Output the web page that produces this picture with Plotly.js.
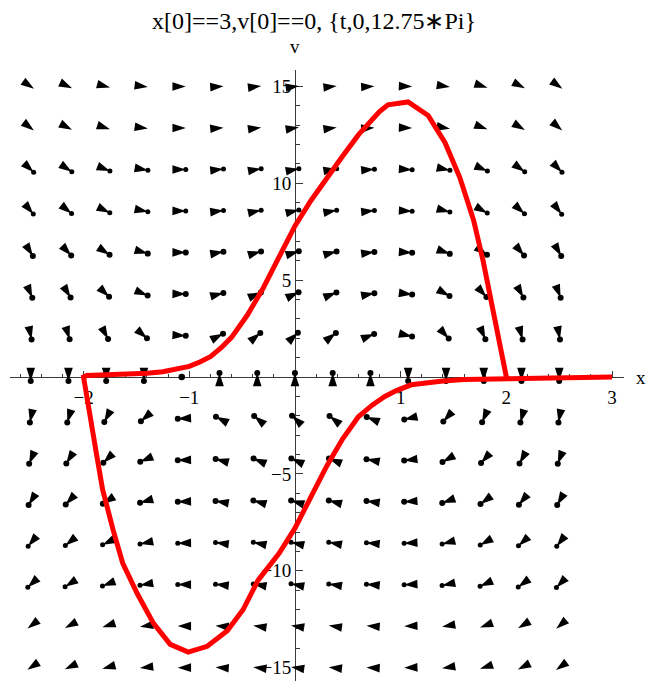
<!DOCTYPE html>
<html>
<head>
<meta charset="utf-8">
<script src="https://cdn.plot.ly/plotly-3.0.1.min.js"></script>
<style>
  html, body { margin: 0; padding: 0; background: #ffffff; }
  #plot { width: 646px; height: 681px; }
</style>
</head>
<body>
<div id="plot"></div>
<script>
// ---- chart text ----
const titleText = 'x[0]==3,v[0]==0, {t,0,12.75\u2217Pi}';
const xAxisLabel = 'x';
const vAxisLabel = 'v';

// ---- axis ticks ----
const xTickVals = [-2, -1, 1, 2, 3];
const xTickText = ['\u22122', '\u22121', '1', '2', '3'];
const vTickVals = [-15, -10, -5, 5, 10, 15];
const vTickText = ['\u221215', '\u221210', '\u22125', '5', '10', '15'];

// ---- direction field sample grid ----
const fieldX = [-2.5, -2.143, -1.786, -1.429, -1.071, -0.714, -0.357, 0, 0.357, 0.714, 1.071, 1.429, 1.786, 2.143, 2.5];
const fieldV = [15, 12.857, 10.714, 8.571, 6.429, 4.286, 2.143, 0, -2.143, -4.286, -6.429, -8.571, -10.714, -12.857, -15];
// heading of each arrow on screen, degrees counter-clockwise from +x (one row per fieldV value);
// null marks a vanishing arrow drawn as a bare dot
const fieldAngle = [
  [-34, -25, -15, -7, 0, 4, 7, 8, 6, 3, -2, -9, -18, -27, -36],
  [-38, -28, -18, -8, 0, 5, 8, 9, 8, 4, -2, -10, -20, -31, -41],
  [-43, -33, -21, -10, 0, 6, 10, 11, 9, 5, -3, -12, -24, -36, -46],
  [-50, -39, -26, -12, -1, 7, 12, 13, 11, 6, -3, -15, -29, -42, -52],
  [-58, -47, -33, -16, -1, 10, 16, 17, 15, 8, -4, -20, -36, -50, -60],
  [-67, -58, -44, -23, -1, 15, 23, 25, 22, 11, -7, -29, -48, -61, -69],
  [-78, -73, -62, -41, -3, 28, 40, 43, 38, 22, -13, -48, -66, -74, -79],
  [-90, -90, -90, -90, null, 90, 90, 90, 90, 90, -90, -90, -90, -90, -90],
  [-102, -107, -118, -139, -177, 152, 140, 137, 142, 158, -167, -132, -114, -106, -101],
  [-113, -122, -136, -157, -179, 165, 157, 155, 158, 169, -173, -151, -132, -119, -111],
  [-122, -133, -147, -164, -179, 170, 164, 163, 165, 172, -176, -160, -144, -130, -120],
  [-130, -141, -154, -168, -179, 173, 168, 167, 169, 174, -177, -165, -151, -138, -128],
  [-137, -147, -159, -170, 180, 174, 170, 169, 171, 175, -177, -168, -156, -144, -134],
  [-142, -152, -162, -172, 180, 175, 172, 171, 172, 176, -178, -170, -160, -149, -139],
  [-146, -155, -165, -173, 180, 176, 173, 172, 174, 177, -178, -171, -162, -153, -144]
];

// ---- solution curve (x, v), followed in time order ----
const trajX = [3.0, 2.6, 2.2, 1.9, 1.6, 1.4, 1.25, 1.1, 0.96, 0.85, 0.73, 0.6, 0.45, 0.3, 0.15, 0.0,
  -0.15, -0.35, -0.49, -0.64, -0.83, -1.01, -1.18, -1.34, -1.49, -1.63, -1.72, -1.82, -1.88, -1.94, -1.99, -2.0,
  -1.97, -1.8, -1.6, -1.4, -1.25, -1.1, -1.0, -0.9, -0.8, -0.7, -0.6, -0.45, -0.3, -0.15, 0.0,
  0.15, 0.3, 0.45, 0.6, 0.8, 0.88, 1.07, 1.26, 1.42, 1.56, 1.69, 1.78, 1.87, 1.94, 1.99, 2.0];
const trajV = [0.0, -0.03, -0.05, -0.08, -0.13, -0.2, -0.27, -0.4, -0.7, -1.0, -1.45, -2.05, -3.2, -4.6, -6.2, -7.8,
  -9.1, -10.5, -12.0, -13.1, -13.9, -14.2, -13.8, -12.7, -11.2, -9.6, -7.9, -5.8, -3.9, -1.9, -0.5, 0.0,
  0.08, 0.1, 0.13, 0.2, 0.27, 0.4, 0.55, 0.78, 1.05, 1.5, 2.05, 3.2, 4.6, 6.2, 7.8,
  9.1, 10.3, 11.4, 12.5, 13.7, 14.05, 14.2, 13.5, 12.1, 10.3, 8.1, 6.0, 3.6, 1.8, 0.5, 0.0];

// ---- layout geometry ----
const W = 646, H = 681;
const M = { l: 10, r: 22, t: 70, b: 0 };
const xRange = [-2.696, 3.113];
const vRange = [-15.69, 15.85];
const plotW = W - M.l - M.r, plotH = H - M.t - M.b;
const pxPerX = plotW / (xRange[1] - xRange[0]);
const pxPerV = plotH / (vRange[1] - vRange[0]);

// arrow glyphs: a narrow head whose tip sits a few pixels ahead of the sample point,
// with a round knob on the tip for the shorter arrows nearer the x axis
const tipAhead = 4;
const headX = [], headV = [], headRot = [];
const dotX = [], dotV = [], dotSize = [];
fieldV.forEach((v, i) => {
  fieldX.forEach((x, j) => {
    const a = fieldAngle[i][j];
    if (a === null) {
      dotX.push(x); dotV.push(v); dotSize.push(6.5);
      return;
    }
    const r = a * Math.PI / 180;
    const tx = x + tipAhead * Math.cos(r) / pxPerX;
    const tv = v + tipAhead * Math.sin(r) / pxPerV;
    headX.push(tx); headV.push(tv); headRot.push(90 - a);
    if (Math.abs(v) < 11) {
      dotX.push(tx); dotV.push(tv); dotSize.push(Math.abs(v) < 7 ? 6 : 5);
    }
  });
});

const serif = 'Liberation Serif, Times New Roman, serif';
const axisColor = '#3a3a3a';

const traces = [
  {
    type: 'scatter', mode: 'markers', x: headX, y: headV, hoverinfo: 'skip',
    marker: { symbol: 'arrow', size: 14, angle: headRot, color: '#000000', opacity: 1, line: { width: 0 } }
  },
  {
    type: 'scatter', mode: 'markers', x: dotX, y: dotV, hoverinfo: 'skip',
    marker: { symbol: 'circle', size: dotSize, color: '#000000', opacity: 1, line: { width: 0 } }
  },
  {
    type: 'scatter', mode: 'lines', x: trajX, y: trajV, hoverinfo: 'skip',
    line: { color: '#ff0000', width: 5, shape: 'linear' }
  }
];

const layout = {
  width: W, height: H,
  margin: M,
  paper_bgcolor: '#ffffff', plot_bgcolor: '#ffffff',
  showlegend: false,
  title: {
    text: titleText,
    font: { family: serif, size: 24, color: '#000000' },
    xref: 'container', x: 314 / W, xanchor: 'center',
    yref: 'container', y: 1 - 21 / H, yanchor: 'middle'
  },
  xaxis: {
    range: xRange, anchor: 'free',
    position: (0 - vRange[0]) / (vRange[1] - vRange[0]),
    showline: true, linecolor: axisColor, linewidth: 1,
    showgrid: false, zeroline: false,
    tickmode: 'array', tickvals: xTickVals, ticktext: xTickText,
    ticks: 'inside', ticklen: 6, tickwidth: 1, tickcolor: axisColor,
    ticklabelstandoff: 3,
    minor: { tick0: 0, dtick: 0.2, ticks: 'inside', ticklen: 3.5, tickwidth: 1, tickcolor: axisColor, showgrid: false },
    tickfont: { family: serif, size: 19, color: '#000000' },
    layer: 'below traces', automargin: false, fixedrange: true
  },
  yaxis: {
    range: vRange, anchor: 'free',
    position: (0 - xRange[0]) / (xRange[1] - xRange[0]),
    showline: true, linecolor: axisColor, linewidth: 1,
    showgrid: false, zeroline: false,
    tickmode: 'array', tickvals: vTickVals, ticktext: vTickText,
    ticks: 'inside', ticklen: 7, tickwidth: 1, tickcolor: axisColor,
    minor: { tick0: 0, dtick: 1, ticks: 'inside', ticklen: 4, tickwidth: 1, tickcolor: axisColor, showgrid: false },
    tickfont: { family: serif, size: 19, color: '#000000' },
    layer: 'below traces', automargin: false, fixedrange: true
  },
  annotations: [
    {
      text: vAxisLabel, xref: 'x', x: 0, yref: 'paper', y: 1 + 23 / plotH,
      xanchor: 'center', yanchor: 'middle', showarrow: false,
      font: { family: serif, size: 19, color: '#000000' }
    },
    {
      text: xAxisLabel, xref: 'paper', x: (641 - M.l) / plotW, yref: 'y', y: 0,
      xanchor: 'center', yanchor: 'middle', showarrow: false,
      font: { family: serif, size: 19, color: '#000000' }
    }
  ]
};

Plotly.newPlot('plot', traces, layout, { displayModeBar: false, staticPlot: true });
</script>
</body>
</html>
